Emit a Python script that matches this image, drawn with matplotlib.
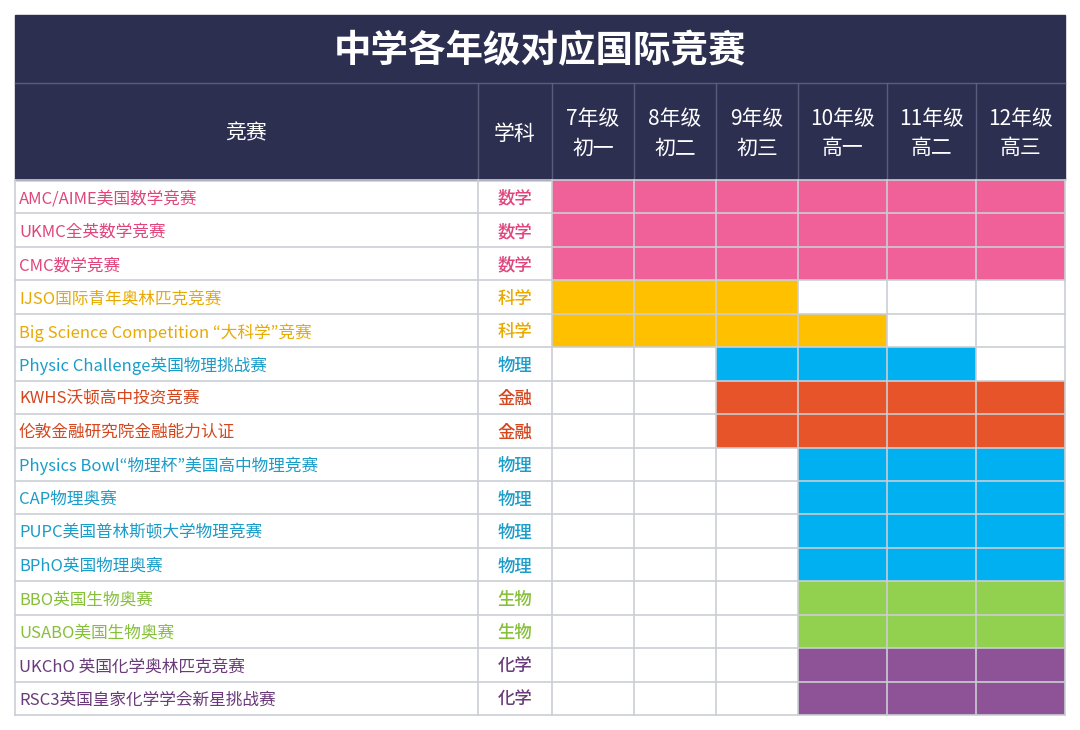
import matplotlib
matplotlib.use("Agg")
import matplotlib.pyplot as plt
from matplotlib.patches import Rectangle
from matplotlib import font_manager as fm

names = sorted({f.name for f in fm.fontManager.ttflist if "CJK" in f.name})
cjk = next((n for n in ["Noto Sans CJK SC", "Noto Sans CJK JP", "Noto Sans CJK TC", "Noto Sans CJK KR"] if n in names),
           names[0] if names else "DejaVu Sans")
plt.rcParams["font.family"] = [cjk, "DejaVu Sans"]
plt.rcParams["axes.unicode_minus"] = False

title = "中学各年级对应国际竞赛"
header_comp = "竞赛"
header_subj = "学科"
grades = ["7年级\n初一", "8年级\n初二", "9年级\n初三", "10年级\n高一", "11年级\n高二", "12年级\n高三"]
competitions = ["AMC/AIME美国数学竞赛", "UKMC全英数学竞赛", "CMC数学竞赛", "IJSO国际青年奥林匹克竞赛",
                "Big Science Competition “大科学”竞赛", "Physic Challenge英国物理挑战赛", "KWHS沃顿高中投资竞赛",
                "伦敦金融研究院金融能力认证", "Physics Bowl“物理杯”美国高中物理竞赛", "CAP物理奥赛",
                "PUPC美国普林斯顿大学物理竞赛", "BPhO英国物理奥赛", "BBO英国生物奥赛", "USABO美国生物奥赛",
                "UKChO 英国化学奥林匹克竞赛", "RSC3英国皇家化学学会新星挑战赛"]
subjects = ["数学", "数学", "数学", "科学", "科学", "物理", "金融", "金融", "物理", "物理", "物理", "物理",
            "生物", "生物", "化学", "化学"]
start_grade = [7, 7, 7, 7, 7, 9, 9, 9, 10, 10, 10, 10, 10, 10, 10, 10]
end_grade = [12, 12, 12, 9, 10, 11, 12, 12, 12, 12, 12, 12, 12, 12, 12, 12]

fill_colors = {"数学": "#F0619A", "科学": "#FFC000", "物理": "#00B0F0", "金融": "#E8542A",
               "生物": "#92D050", "化学": "#8E5296"}
text_colors = {"数学": "#E0457B", "科学": "#E8A900", "物理": "#1B9CC9", "金融": "#D4461E",
               "生物": "#86BF3A", "化学": "#6A3A7A"}

W, H = 1080, 730
fig = plt.figure(figsize=(W / 100, H / 100), dpi=100)
ax = fig.add_axes([0, 0, 1, 1])
ax.set_xlim(0, W); ax.set_ylim(H, 0); ax.axis("off")

navy = "#2C2F50"
xs = [15, 478, 552, 634, 716, 798, 887, 976, 1065]
ttop, htop, btop, bbot = 15, 83, 180, 715
n = len(competitions)
rh = (bbot - btop) / n
dy = 2

ax.add_patch(Rectangle((xs[0], ttop), xs[-1] - xs[0], btop - ttop, color=navy))
ax.text((xs[0] + xs[-1]) / 2, (ttop + htop) / 2 + dy, title, color="white", fontsize=27,
        fontweight="bold", ha="center", va="center")
ax.plot([xs[0], xs[-1]], [htop, htop], color="#5A5D7A", lw=1)
for x in xs[1:-1]:
    ax.plot([x, x], [htop, btop], color="#5A5D7A", lw=1)
ax.text((xs[0] + xs[1]) / 2, (htop + btop) / 2 + dy, header_comp, color="white", fontsize=15, ha="center", va="center")
ax.text((xs[1] + xs[2]) / 2, (htop + btop) / 2 + dy, header_subj, color="white", fontsize=15, ha="center", va="center")
for j, g in enumerate(grades):
    ax.text((xs[j + 2] + xs[j + 3]) / 2, (htop + btop) / 2 + dy, g, color="white", fontsize=15,
            ha="center", va="center", linespacing=1.45)

for i in range(n):
    y0 = btop + i * rh
    s = subjects[i]
    for g in range(start_grade[i], end_grade[i] + 1):
        j = g - 7
        ax.add_patch(Rectangle((xs[j + 2], y0), xs[j + 3] - xs[j + 2], rh, color=fill_colors[s], lw=0))
    ax.text(xs[0] + 4, y0 + rh / 2 + dy, competitions[i], color=text_colors[s], fontsize=12, ha="left", va="center")
    ax.text((xs[1] + xs[2]) / 2, y0 + rh / 2 + dy, s, color=text_colors[s], fontsize=12.5,
            fontweight="medium", ha="center", va="center")

grid = "#CBCED3"
for i in range(n + 1):
    y = btop + i * rh
    ax.plot([xs[0], xs[-1]], [y, y], color=grid, lw=1.2)
for x in xs:
    ax.plot([x, x], [btop, bbot], color=grid, lw=1.2)

fig.savefig("out.png", dpi=100)
